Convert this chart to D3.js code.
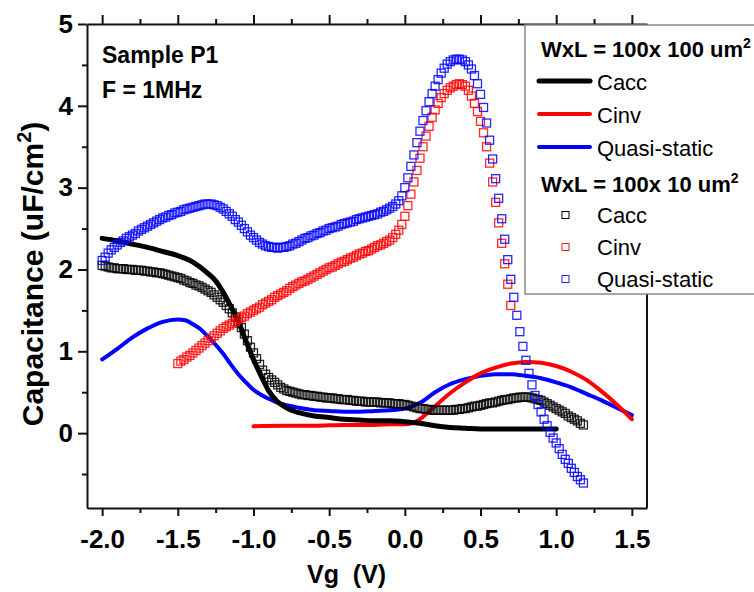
<!DOCTYPE html>
<html>
<head>
<meta charset="utf-8">
<script src="https://cdn.jsdelivr.net/npm/d3@7"></script>
<style>
  body { margin: 0; background: #fff; }
  text { font-family: 'Liberation Sans', Arial, sans-serif; }
</style>
</head>
<body>
<svg id="canvas"></svg>
<script>
// WxL = 100x100 um2, solid lines
const caccLineVg = [-2.0, -1.9, -1.8, -1.7, -1.6, -1.5, -1.4, -1.3, -1.25, -1.2, -1.15, -1.1, -1.05, -1.0, -0.95, -0.9, -0.85, -0.8, -0.75, -0.7,
    -0.6, -0.5, -0.4, -0.3, -0.2, -0.1, 0.0, 0.1, 0.2, 0.3, 0.4, 0.5, 0.6, 0.7, 0.8, 0.9, 1.0]
const caccLineC = [2.38, 2.35, 2.31, 2.27, 2.22, 2.17, 2.09, 1.95, 1.86, 1.72, 1.55, 1.36, 1.13, 0.90, 0.70, 0.52, 0.40, 0.33, 0.28, 0.25,
    0.21, 0.19, 0.17, 0.16, 0.15, 0.15, 0.14, 0.12, 0.09, 0.07, 0.06, 0.05, 0.05, 0.05, 0.05, 0.05, 0.05]

const cinvLineVg = [-1.0, -0.8, -0.6, -0.4, -0.2, -0.1, 0.0, 0.05, 0.1, 0.15, 0.2, 0.3, 0.4, 0.5, 0.6, 0.7, 0.8, 0.9, 1.0, 1.1, 1.2, 1.3, 1.4, 1.5]
const cinvLineC = [0.085, 0.09, 0.09, 0.10, 0.10, 0.11, 0.11, 0.12, 0.17, 0.25, 0.33, 0.49, 0.62, 0.73, 0.80, 0.85, 0.87, 0.86, 0.82, 0.75, 0.65, 0.51, 0.35, 0.17]

const qsLineVg = [-2.0, -1.9, -1.8, -1.7, -1.6, -1.5, -1.45, -1.4, -1.35, -1.3, -1.25, -1.2, -1.15, -1.1, -1.05, -1.0, -0.95, -0.9, -0.85, -0.8,
    -0.7, -0.6, -0.5, -0.4, -0.3, -0.2, -0.1, 0.0, 0.1, 0.2, 0.3, 0.4, 0.5, 0.6, 0.7, 0.8, 0.9, 1.0, 1.1, 1.2, 1.3, 1.4, 1.5]
const qsLineC = [0.90, 1.03, 1.17, 1.28, 1.36, 1.39, 1.38, 1.33, 1.27, 1.18, 1.08, 0.97, 0.84, 0.72, 0.62, 0.53, 0.47, 0.42, 0.38, 0.35,
    0.31, 0.28, 0.27, 0.26, 0.26, 0.27, 0.28, 0.30, 0.37, 0.50, 0.60, 0.66, 0.70, 0.72, 0.72, 0.70, 0.67, 0.62, 0.56, 0.48, 0.40, 0.31, 0.22]

// WxL = 100x10 um2, open squares, sweep step of 0.02 V
const vgStep = 0.02
const caccSmallStart = -2.0
const caccSmall = [
    2.05, 2.04, 2.03, 2.02, 2.02, 2.01, 2.01, 2.01, 2.00, 2.00,
    2.00, 1.99, 1.99, 1.99, 1.98, 1.98, 1.97, 1.97, 1.96, 1.96,
    1.95, 1.94, 1.93, 1.92, 1.91, 1.90, 1.89, 1.87, 1.86, 1.84,
    1.83, 1.81, 1.80, 1.78, 1.76, 1.74, 1.72, 1.69, 1.66, 1.63,
    1.60, 1.56, 1.52, 1.47, 1.42, 1.36, 1.29, 1.21, 1.13, 1.05,
    0.98, 0.91, 0.84, 0.77, 0.72, 0.68, 0.65, 0.62, 0.59, 0.56,
    0.54, 0.52, 0.51, 0.50, 0.49, 0.48, 0.47, 0.47, 0.46, 0.46,
    0.45, 0.45, 0.44, 0.44, 0.43, 0.43, 0.43, 0.42, 0.42, 0.41,
    0.41, 0.41, 0.40, 0.40, 0.39, 0.39, 0.39, 0.38, 0.38, 0.38,
    0.38, 0.38, 0.37, 0.37, 0.37, 0.37, 0.36, 0.36, 0.36, 0.35,
    0.35, 0.34, 0.33, 0.32, 0.31, 0.30, 0.30, 0.29, 0.29, 0.28,
    0.28, 0.28, 0.28, 0.28, 0.28, 0.28, 0.28, 0.29, 0.29, 0.30,
    0.30, 0.31, 0.32, 0.33, 0.33, 0.34, 0.35, 0.36, 0.37, 0.37,
    0.38, 0.39, 0.40, 0.41, 0.41, 0.42, 0.43, 0.43, 0.44, 0.44,
    0.44, 0.44, 0.43, 0.42, 0.41, 0.40, 0.38, 0.36, 0.34, 0.32,
    0.30, 0.28, 0.26, 0.24, 0.21, 0.19, 0.17, 0.15, 0.12, 0.10]
const cinvSmallStart = -1.5
const cinvSmall = [
    0.85, 0.88, 0.90, 0.93, 0.95, 0.98, 1.01, 1.04, 1.07, 1.10,
    1.13, 1.16, 1.19, 1.22, 1.25, 1.28, 1.30, 1.32, 1.34, 1.36,
    1.39, 1.41, 1.43, 1.46, 1.48, 1.50, 1.52, 1.54, 1.57, 1.59,
    1.61, 1.63, 1.66, 1.68, 1.70, 1.72, 1.74, 1.77, 1.79, 1.81,
    1.83, 1.85, 1.86, 1.88, 1.90, 1.92, 1.94, 1.96, 1.98, 2.00,
    2.02, 2.03, 2.05, 2.07, 2.09, 2.10, 2.12, 2.14, 2.15, 2.17,
    2.19, 2.20, 2.22, 2.23, 2.25, 2.27, 2.29, 2.30, 2.32, 2.34,
    2.36, 2.39, 2.43, 2.48, 2.55, 2.65, 2.78, 2.92, 3.07, 3.21,
    3.36, 3.50, 3.63, 3.75, 3.86, 3.95, 4.03, 4.10, 4.15, 4.19,
    4.22, 4.24, 4.26, 4.27, 4.26, 4.24, 4.19, 4.12, 4.03, 3.93,
    3.81, 3.67, 3.50, 3.30, 3.07, 2.82, 2.57, 2.32, 2.07, 1.82,
    1.56]
const qsSmallStart = -2.0
const qsSmall = [
    2.11, 2.15, 2.20, 2.24, 2.27, 2.30, 2.33, 2.35, 2.38, 2.40,
    2.42, 2.44, 2.47, 2.49, 2.51, 2.53, 2.55, 2.57, 2.59, 2.61,
    2.63, 2.64, 2.66, 2.67, 2.69, 2.70, 2.71, 2.73, 2.74, 2.75,
    2.76, 2.77, 2.78, 2.79, 2.80, 2.80, 2.80, 2.79, 2.78, 2.76,
    2.74, 2.71, 2.68, 2.65, 2.61, 2.58, 2.54, 2.50, 2.46, 2.42,
    2.39, 2.36, 2.33, 2.31, 2.29, 2.28, 2.27, 2.27, 2.26, 2.27,
    2.27, 2.28, 2.29, 2.31, 2.32, 2.34, 2.36, 2.38, 2.39, 2.41,
    2.42, 2.44, 2.45, 2.47, 2.48, 2.50, 2.51, 2.52, 2.53, 2.55,
    2.56, 2.57, 2.58, 2.59, 2.61, 2.62, 2.63, 2.64, 2.65, 2.66,
    2.67, 2.68, 2.70, 2.71, 2.73, 2.75, 2.77, 2.80, 2.84, 2.90,
    3.00, 3.12, 3.26, 3.40, 3.55, 3.69, 3.82, 3.94, 4.05, 4.15,
    4.24, 4.32, 4.40, 4.46, 4.51, 4.54, 4.56, 4.57, 4.57, 4.56,
    4.54, 4.50, 4.45, 4.37, 4.27, 4.14, 3.98, 3.79, 3.58, 3.35,
    3.11, 2.87, 2.62, 2.37, 2.12, 1.88, 1.66, 1.44, 1.24, 1.06,
    0.89, 0.73, 0.59, 0.46, 0.35, 0.26, 0.17, 0.09, 0.01, -0.06,
    -0.12, -0.19, -0.26, -0.32, -0.37, -0.43, -0.48, -0.53, -0.57, -0.61]

const xTicks = [-2.0, -1.5, -1.0, -0.5, 0.0, 0.5, 1.0, 1.5]
const xMinorTicks = [-1.75, -1.25, -0.75, -0.25, 0.25, 0.75, 1.25]
const yTicks = [0, 1, 2, 3, 4, 5]
const yMinorTicks = [-0.5, 0.5, 1.5, 2.5, 3.5, 4.5]

const legendLines = [
    { name: 'Cacc', color: '#000', width: 5 },
    { name: 'Cinv', color: '#ff0000', width: 4 },
    { name: 'Quasi-static', color: '#0000ff', width: 4 }
]
const legendSquares = [
    { name: 'Cacc', color: '#000' },
    { name: 'Cinv', color: '#ff2020' },
    { name: 'Quasi-static', color: '#2020ff' }
]

const width = 754, height = 592
const margin = { top: 24, right: 107, bottom: 84, left: 87 }
const w = width - margin.left - margin.right
const h = height - margin.top - margin.bottom

const svg = d3.select('#canvas').attr('width', width).attr('height', height)
svg.append('rect').attr('width', width).attr('height', height).attr('fill', '#fff')
const g = svg.append('g').attr('transform', `translate(${margin.left}, ${margin.top})`)

const xScale = d3.scaleLinear().domain([-2.1, 1.6]).range([0, w])
const yScale = d3.scaleLinear().domain([-0.915, 5]).range([h, 0])

const styleAxis = (sel, labels = true) => {
    sel.select('.domain').attr('stroke', '#111').attr('stroke-width', 2)
    sel.selectAll('.tick line').attr('stroke', '#111').attr('stroke-width', 2)
    if (labels) {
        sel.selectAll('.tick text')
            .attr('fill', '#000')
            .attr('font-size', 26)
            .attr('font-weight', 'bold')
            .attr('font-family', "'Liberation Sans', Arial, sans-serif")
    } else {
        sel.selectAll('.tick text').remove()
    }
}

// axes
g.append('g').attr('transform', `translate(0, ${h})`)
    .call(d3.axisBottom(xScale).tickValues(xTicks).tickSize(8).tickPadding(14).tickSizeOuter(0).tickFormat(d => d.toFixed(1)))
    .call(styleAxis)
g.append('g').attr('transform', `translate(0, ${h})`)
    .call(d3.axisBottom(xScale).tickValues(xMinorTicks).tickSize(5).tickSizeOuter(0))
    .call(sel => { sel.select('.domain').remove(); styleAxis(sel, false) })
g.append('g')
    .call(d3.axisTop(xScale).tickValues(xTicks).tickSize(9).tickSizeOuter(0))
    .call(sel => styleAxis(sel, false))
g.append('g')
    .call(d3.axisTop(xScale).tickValues(xMinorTicks).tickSize(5).tickSizeOuter(0))
    .call(sel => { sel.select('.domain').remove(); styleAxis(sel, false) })
g.append('g')
    .call(d3.axisLeft(yScale).tickValues(yTicks).tickSize(9).tickPadding(5).tickSizeOuter(0).tickFormat(d3.format('d')))
    .call(styleAxis)
g.append('g')
    .call(d3.axisLeft(yScale).tickValues(yMinorTicks).tickSize(5).tickSizeOuter(0))
    .call(sel => { sel.select('.domain').remove(); styleAxis(sel, false) })
g.append('line')
    .attr('x1', w).attr('x2', w).attr('y1', 0).attr('y2', h)
    .attr('stroke', '#111').attr('stroke-width', 2)

// axis titles
svg.append('text')
    .attr('x', 307).attr('y', 583)
    .attr('font-size', 25).attr('font-weight', 'bold')
    .style('white-space', 'pre')
    .text('Vg  (V)')

const yTitle = svg.append('text')
    .attr('transform', 'translate(43, 274) rotate(-90)')
    .attr('text-anchor', 'middle')
    .attr('font-size', 30).attr('font-weight', 'bold')
yTitle.append('tspan').text('Capacitance (uF/cm')
yTitle.append('tspan').attr('font-size', 20).attr('dy', -12).text('2')
yTitle.append('tspan').attr('dy', 12).text(')')

// annotations
svg.append('text').attr('x', 102).attr('y', 63)
    .attr('font-size', 23).attr('font-weight', 'bold').text('Sample P1')
svg.append('text').attr('x', 102).attr('y', 98)
    .attr('font-size', 23).attr('font-weight', 'bold').text('F = 1MHz')

// solid lines
const line = d3.line().x(d => xScale(d[0])).y(d => yScale(d[1])).curve(d3.curveMonotoneX)
const zip = (xs, ys) => xs.map((x, i) => [x, ys[i]])

const lineSeries = [
    { vg: qsLineVg, c: qsLineC, color: '#0000ff', width: 4 },
    { vg: cinvLineVg, c: cinvLineC, color: '#ff0000', width: 4 },
    { vg: caccLineVg, c: caccLineC, color: '#000', width: 5 }
]
g.selectAll('path.curve')
    .data(lineSeries)
    .enter()
    .append('path')
        .attr('class', 'curve')
        .attr('d', d => line(zip(d.vg, d.c)))
        .attr('fill', 'none')
        .attr('stroke', d => d.color)
        .attr('stroke-width', d => d.width)
        .attr('stroke-linejoin', 'round')
        .attr('stroke-linecap', 'round')

// open squares
const squareSeries = [
    { start: caccSmallStart, c: caccSmall, color: '#000' },
    { start: cinvSmallStart, c: cinvSmall, color: '#ff0000' },
    { start: qsSmallStart, c: qsSmall, color: '#0000ff' }
]
const sq = 8
squareSeries.forEach(s => {
    g.append('g').selectAll('rect')
        .data(s.c)
        .enter()
        .append('rect')
            .attr('x', (d, i) => xScale(s.start + i * vgStep) - sq / 2)
            .attr('y', d => yScale(d) - sq / 2)
            .attr('width', sq)
            .attr('height', sq)
            .attr('fill', 'none')
            .attr('stroke', s.color)
            .attr('stroke-width', 1.3)
            .attr('stroke-opacity', 0.85)
})

// legend
const lg = svg.append('g')
lg.append('rect')
    .attr('x', 525).attr('y', 25).attr('width', 240).attr('height', 269)
    .attr('fill', '#fff').attr('stroke', '#8a8a8a').attr('stroke-width', 1.5)

const legendTitle = (y, text) => {
    const t = lg.append('text').attr('x', 541).attr('y', y)
        .attr('font-size', 22).attr('font-weight', 'bold')
    t.append('tspan').text(text)
    t.append('tspan').attr('font-size', 14).attr('dy', -9).text('2')
}
legendTitle(57, 'WxL = 100x 100 um')
legendTitle(192, 'WxL = 100x 10 um')

legendLines.forEach((d, i) => {
    const y = 81 + i * 33
    lg.append('line')
        .attr('x1', 539).attr('x2', 590).attr('y1', y).attr('y2', y)
        .attr('stroke', d.color).attr('stroke-width', d.width).attr('stroke-linecap', 'round')
    lg.append('text').attr('x', 597).attr('y', y + 9).attr('font-size', 22).text(d.name)
})

legendSquares.forEach((d, i) => {
    const y = 215 + i * 32
    lg.append('rect')
        .attr('x', 562).attr('y', y - 3.5).attr('width', 7).attr('height', 7)
        .attr('fill', 'none').attr('stroke', d.color).attr('stroke-width', 1)
    lg.append('text').attr('x', 597).attr('y', y + 8).attr('font-size', 22).text(d.name)
})
</script>
</body>
</html>
